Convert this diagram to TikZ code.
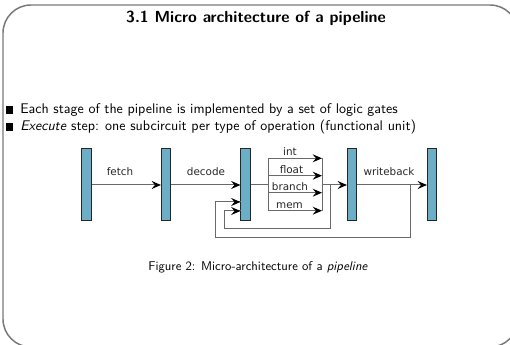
\documentclass[tikz,border=0pt]{standalone}
\usepackage{fontspec}
\newfontfamily\diagfont{DejaVu Sans}
\usetikzlibrary{arrows.meta}
\definecolor{barcol}{RGB}{107,174,198}
\definecolor{linecol}{RGB}{105,105,105}
\definecolor{framecol}{RGB}{120,120,120}
\begin{document}
\begin{tikzpicture}[x=0.75pt,y=-0.75pt,
  bar/.style={draw=black!85, fill=barcol, line width=0.75pt, minimum width=6.8pt, minimum height=54pt, inner sep=0pt},
  wire/.style={draw=linecol, line width=0.75pt},
  arr/.style={wire, -{Stealth[length=7pt,width=6pt,inset=2.5pt,color=black]}},
  lbl/.style={font=\diagfont\fontsize{7.8}{9}\selectfont, text=black!85, inner sep=0pt, anchor=base},
  body/.style={font=\sffamily\fontsize{10.5}{12}\selectfont, inner sep=0pt, anchor=base west},
  bul/.style={fill=black, minimum size=5.4pt, inner sep=0pt},
]
\useasboundingbox (0,0) rectangle (510,345);
\begin{scope}
  \clip (0,0) rectangle (510,345);
  \draw[framecol, line width=1.1pt, rounded corners=21pt] (3,5) rectangle (518,347);
\end{scope}

\node[font=\sffamily\bfseries\fontsize{12}{14}\selectfont, inner sep=0pt, anchor=base] (title) at (256,23) {3.1 Micro architecture of a pipeline};

\node[bul] (bul1) at (9.5,110) {};
\node[body] (l1) at (20,114) {Each stage of the pipeline is implemented by a set of logic gates};
\node[bul] (bul2) at (9.5,127) {};
\node[body] (l2) at (20,131) {\textit{Execute} step: one subcircuit per type of operation (functional unit)};

% bars
\node[bar] (b1) at (86.5,185) {};
\node[bar] (b2) at (166,185) {};
\node[bar] (b3) at (245.5,185) {};
\node[bar] (b4) at (352,185) {};
\node[bar] (b5) at (432,185) {};

\draw[arr] (b1.east) -- (b2.west);
\draw[arr] (b2.east) -- (b3.west);
\draw[arr] (b4.east) -- (b5.west);
\node[lbl] (tfetch) at (120,175.5) {fetch};
\node[lbl] (tdecode) at (206,175.5) {decode};
\node[lbl] (twb) at (389,175.5) {writeback};

% execute units
\coordinate (sp) at (268,185);
\coordinate (lt) at (268,158.3);
\coordinate (lb) at (268,210.7);
\coordinate (rt) at (322,158.3);
\coordinate (rb) at (322,210.7);
\coordinate (rm) at (322,185);
\draw[wire] (b3.east) -- (sp);
\draw[wire] (lt) -- (lb);
\draw[wire] (rt) -- (rb);
\coordinate (u1) at (268,158.3);  \coordinate (v1) at (322,158.3);
\coordinate (u2) at (268,175.7);  \coordinate (v2) at (322,175.7);
\coordinate (u3) at (268,192.7);  \coordinate (v3) at (322,192.7);
\coordinate (u4) at (268,210.7);  \coordinate (v4) at (322,210.7);
\draw[arr] (u1) -- (v1);
\draw[arr] (u2) -- (v2);
\draw[arr] (u3) -- (v3);
\draw[arr] (u4) -- (v4);
\node[lbl] (tint) at (290,156) {int};
\node[lbl] (tfloat) at (291.5,173.5) {float};
\node[lbl] (tbranch) at (290,190.5) {branch};
\node[lbl] (tmem) at (289.5,208.5) {mem};
\draw[arr] (rm) -- (b4.west);

% feedback loops
\coordinate (f1) at (330,185);
\coordinate (f2) at (410,185);
\draw[wire] (f1) |- (224,229) |- (241,211) coordinate (in1);
\draw[arr] (224,211) -- (b3.west |- in1);
\draw[wire] (f2) |- (215,238) |- (241,202) coordinate (in2);
\draw[arr] (215,202) -- (b3.west |- in2);

\node[font=\sffamily\fontsize{9.5}{11}\selectfont, inner sep=0pt, anchor=base] (cap) at (258,270) {Figure 2: Micro-architecture of a \textit{pipeline}};
\end{tikzpicture}
\end{document}
